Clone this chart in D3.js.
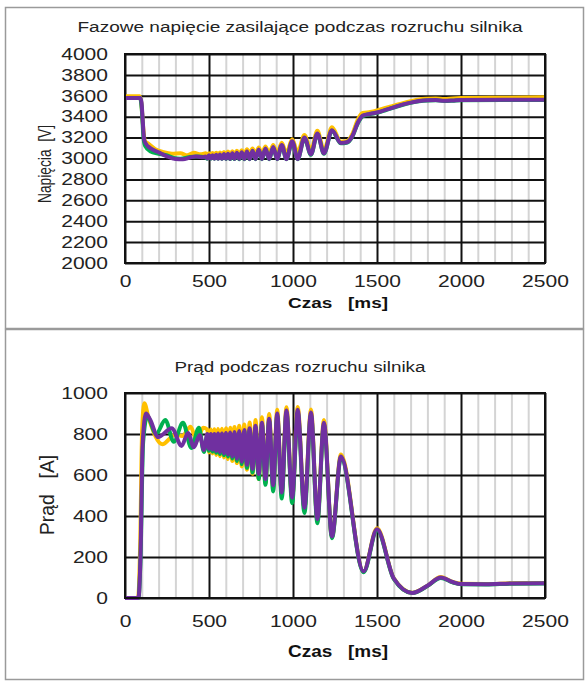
<!DOCTYPE html>
<html>
<head>
<meta charset="utf-8">
<script src="https://cdn.jsdelivr.net/npm/d3@7"></script>
<style>
    body { margin: 0; background: #fff; }
    svg { display: block; font-family: "Liberation Sans", Arial, sans-serif; }
</style>
</head>
<body>
<div id="wykres"></div>
<script>
// ---------------- dane: [czas ms, wartosc] ----------------
var czasTicks = [0, 500, 1000, 1500, 2000, 2500];
var napiecieTicks = [2000, 2200, 2400, 2600, 2800, 3000, 3200, 3400, 3600, 3800, 4000];
var pradTicks = [0, 200, 400, 600, 800, 1000];
var kolory = ["#FFC000", "#00B050", "#7030A0"];   // L1 zolty, L2 zielony, L3 fioletowy

// napiecie fazowe [V]
var napiecieL1 = [[0,3595],[88,3595],[98,3520],[108,3300],[118,3170],[140,3140],[180,3090],[230,3060],[280,3045],[330,3050],[370,3030],[410,3055],[450,3040],[480,3050],
    [490,3030],[500,3050],[511,3032],[521,3052],[532,3030],[543,3055],[554,3032],[565,3058],[577,3033],[589,3062],[601,3035],[613,3066],[626,3036],[639,3070],[652,3038],[666,3075],[680,3040],[695,3080],[710,3040],[726,3088],[742,3042],[759,3095],[777,3044],[796,3105],[815,3045],[836,3115],[858,3048],[882,3130],[906,3050],[933,3150],[961,3050],[995,3185],[1028,3060],[1068,3225],[1107,3080],[1145,3265],[1184,3080],[1232,3300],[1285,3160],
    [1320,3165],[1355,3240],[1385,3370],[1415,3435],[1460,3445],[1500,3460],[1550,3485],[1600,3505],[1650,3528],[1700,3548],[1750,3565],[1800,3572],[1850,3575],[1900,3570],[1950,3575],[2000,3578],[2250,3582],[2500,3585]];
var napiecieL2 = [[0,3580],[90,3580],[100,3470],[110,3200],[120,3120],[150,3070],[200,3045],[250,3030],[290,3005],[330,2998],[380,3012],[430,3020],[480,3010],
    [490,2998],[500,3022],[511,2998],[521,3025],[532,2997],[543,3028],[554,2997],[565,3030],[577,2996],[589,3034],[601,2996],[613,3038],[626,2995],[639,3042],[652,2995],[666,3047],[680,2994],[695,3052],[710,2994],[726,3060],[742,2994],[759,3068],[777,2994],[796,3078],[815,2994],[836,3088],[858,2994],[882,3102],[906,2994],[933,3122],[961,2994],[995,3158],[1028,2994],[1068,3195],[1107,3035],[1145,3235],[1184,3045],[1232,3265],[1285,3145],
    [1320,3150],[1355,3215],[1385,3335],[1415,3405],[1460,3425],[1500,3438],[1550,3462],[1600,3488],[1650,3512],[1700,3532],[1750,3548],[1800,3556],[1850,3558],[1900,3550],[1950,3553],[2000,3558],[2250,3560],[2500,3560]];
var napiecieL3 = [[0,3578],[90,3578],[98,3540],[106,3350],[114,3180],[125,3140],[150,3100],[200,3060],[250,3020],[300,2995],[345,2992],[385,3008],[420,3020],[455,3012],[480,3018],
    [490,3000],[500,3030],[511,3000],[521,3032],[532,2998],[543,3035],[554,2998],[565,3038],[577,2997],[589,3042],[601,2997],[613,3045],[626,2996],[639,3050],[652,2996],[666,3055],[680,2995],[695,3060],[710,2995],[726,3068],[742,2995],[759,3075],[777,2995],[796,3085],[815,2995],[836,3095],[858,2995],[882,3110],[906,2995],[933,3130],[961,2995],[995,3165],[1028,2995],[1068,3200],[1107,3040],[1145,3240],[1184,3050],[1232,3270],[1285,3148],
    [1320,3155],[1355,3220],[1385,3340],[1415,3410],[1460,3428],[1500,3440],[1550,3465],[1600,3490],[1650,3515],[1700,3535],[1750,3550],[1800,3558],[1850,3560],[1900,3552],[1950,3555],[2000,3560],[2250,3562],[2500,3562]];

// prad [A]
var pradL1 = [[0,0],[78,0],[90,250],[102,820],[115,950],[140,880],[222,750],[300,798],[340,790],[390,835],[428,768],[465,830],
    [490,822],[500,710],[511,822],[521,705],[532,823],[543,698],[554,825],[565,692],[577,826],[589,685],[601,828],[613,678],[626,830],[639,668],[652,834],[666,658],[680,840],[695,642],[710,846],[726,626],[742,856],[759,606],[777,868],[796,580],[815,882],[836,560],[858,898],[882,540],[906,918],[933,508],[961,930],[995,484],[1028,932],[1068,436],[1107,920],[1145,382],[1184,868],[1232,298],[1285,700],
    [1420,130],[1500,340],[1600,96],[1710,26],[1800,60],[1880,102],[1950,78],[2000,69],[2150,68],[2300,72],[2500,73]];
var pradL2 = [[0,0],[80,0],[92,180],[108,760],[132,885],[185,800],[240,868],[290,762],[345,855],[395,732],[440,830],[470,712],
    [490,792],[500,718],[511,794],[521,714],[532,794],[543,708],[554,796],[565,702],[577,797],[589,696],[601,799],[613,690],[626,801],[639,680],[652,804],[666,668],[680,808],[695,652],[710,812],[726,635],[742,820],[759,612],[777,832],[796,580],[815,847],[836,552],[858,866],[882,520],[906,890],[933,485],[961,905],[995,462],[1028,906],[1068,415],[1107,895],[1145,365],[1184,845],[1232,292],[1285,684],
    [1420,126],[1500,330],[1600,93],[1710,24],[1800,58],[1880,98],[1950,76],[2000,67],[2150,66],[2300,70],[2500,71]];
var pradL3 = [[0,0],[80,0],[92,200],[105,750],[125,900],[150,870],[197,785],[278,828],[337,742],[375,805],[410,735],[445,795],[470,722],
    [490,800],[500,728],[511,800],[521,724],[532,800],[543,718],[554,802],[565,712],[577,803],[589,706],[601,805],[613,700],[626,807],[639,690],[652,810],[666,680],[680,815],[695,665],[710,820],[726,650],[742,828],[759,630],[777,840],[796,605],[815,855],[836,580],[858,875],[882,550],[906,900],[933,515],[961,915],[995,490],[1028,918],[1068,440],[1107,905],[1145,385],[1184,855],[1232,300],[1285,690],
    [1420,130],[1500,335],[1600,95],[1710,25],[1800,60],[1880,100],[1950,78],[2000,68],[2150,67],[2300,71],[2500,72]];

// ---------------- rysunek ----------------
var svg = d3.select("#wykres")
    .append("svg")
    .attr("width", 585)
    .attr("height", 682);

// ramki obu paneli
svg.append("rect").attr("x", 5.5).attr("y", 7.5).attr("width", 578).attr("height", 321)
    .attr("fill", "none").attr("stroke", "#9a9a9a").attr("stroke-width", 1.5);
svg.append("rect").attr("x", 5.5).attr("y", 329.5).attr("width", 578).attr("height", 350)
    .attr("fill", "none").attr("stroke", "#9a9a9a").attr("stroke-width", 1.5);

function rysuj(o) {
    var x = d3.scaleLinear().domain([0, 2500]).range([125, 545]);
    var y = d3.scaleLinear().domain(o.domena).range([o.dol, o.gora]);
    var h = o.dol - o.gora, w = 420;
    var g = svg.append("g");

    // siatka pomocnicza co 100 ms (szara)
    g.append("g")
        .attr("transform", "translate(0," + o.dol + ")")
        .call(d3.axisBottom(x).tickValues(d3.range(100, 2500, 100).filter(function (d) { return d % 500 != 0; }))
            .tickSize(-h).tickFormat(""))
        .call(function (s) { s.select(".domain").remove(); })
        .selectAll("line").attr("stroke", "#d4d4d4").attr("stroke-width", 2);

    // siatka glowna (czarna)
    g.append("g")
        .attr("transform", "translate(0," + o.dol + ")")
        .call(d3.axisBottom(x).tickValues(czasTicks).tickSize(-h).tickFormat(""))
        .call(function (s) { s.select(".domain").remove(); })
        .selectAll("line").attr("stroke", "#111").attr("stroke-width", 2);
    g.append("g")
        .attr("transform", "translate(125,0)")
        .call(d3.axisLeft(y).tickValues(o.yTicks).tickSize(-w).tickFormat(""))
        .call(function (s) { s.select(".domain").remove(); })
        .selectAll("line").attr("stroke", "#111").attr("stroke-width", 2);

    // linie trzech faz
    var linia = d3.line()
        .x(function (d) { return x(d[0]); })
        .y(function (d) { return y(d[1]); })
        .curve(d3.curveMonotoneX);
    o.serie.forEach(function (s, i) {
        g.append("path")
            .datum(s)
            .attr("d", linia)
            .attr("fill", "none")
            .attr("stroke", kolory[i])
            .attr("stroke-width", 4)
            .attr("stroke-linejoin", "round");
    });

    // ramka obszaru wykresu
    g.append("rect").attr("x", 125).attr("y", o.gora).attr("width", w).attr("height", h)
        .attr("fill", "none").attr("stroke", "#111").attr("stroke-width", 2);

    // opisy osi (liczby)
    var osX = g.append("g")
        .attr("transform", "translate(0," + o.dol + ")")
        .call(d3.axisBottom(x).tickValues(czasTicks).tickSize(0).tickPadding(o.padX).tickFormat(d3.format("d")));
    var osY = g.append("g")
        .attr("transform", "translate(125,0)")
        .call(d3.axisLeft(y).tickValues(o.yTicks).tickSize(0).tickPadding(17).tickFormat(d3.format("d")));
    [osX, osY].forEach(function (os) {
        os.select(".domain").remove();
        os.selectAll("text")
            .attr("font-family", "Liberation Sans, Arial, sans-serif")
            .attr("font-size", 16.5)
            .attr("fill", "#222")
            .attr("textLength", function (d) { return String(d).length * 11.7; })
            .attr("lengthAdjust", "spacingAndGlyphs");
    });

    // tytul
    g.append("text")
        .attr("x", 300).attr("y", o.tytulY)
        .attr("text-anchor", "middle")
        .attr("font-size", 14).attr("fill", "#222")
        .attr("textLength", o.tytulDl).attr("lengthAdjust", "spacingAndGlyphs")
        .text(o.tytul);

    // os X - opis
    g.append("text")
        .attr("x", 338).attr("y", o.czasY)
        .attr("text-anchor", "middle")
        .attr("font-size", o.czasFont).attr("font-weight", "bold").attr("fill", "#111")
        .attr("textLength", 100).attr("lengthAdjust", "spacingAndGlyphs")
        .style("white-space", "pre")
        .text("Czas   [ms]");

    // os Y - opis
    g.append("text")
        .attr("transform", "translate(" + o.yLabX + "," + o.yLabY + ") scale(1.3,1) rotate(-90)")
        .attr("text-anchor", "middle")
        .attr("font-size", o.yLabFont).attr("fill", "#222")
        .attr("textLength", o.yLabDl).attr("lengthAdjust", "spacingAndGlyphs")
        .style("white-space", "pre")
        .text(o.yLab);
}

rysuj({
    domena: [2000, 4000], yTicks: napiecieTicks, gora: 54, dol: 263, padX: 12,
    serie: [napiecieL1, napiecieL2, napiecieL3],
    tytul: "Fazowe napięcie zasilające podczas rozruchu silnika", tytulY: 32, tytulDl: 445,
    czasY: 308, czasFont: 14,
    yLab: "Napięcia  [V]", yLabX: 51, yLabY: 164, yLabFont: 14, yLabDl: 78
});

rysuj({
    domena: [0, 1000], yTicks: pradTicks, gora: 393, dol: 598, padX: 17,
    serie: [pradL1, pradL2, pradL3],
    tytul: "Prąd podczas rozruchu silnika", tytulY: 372, tytulDl: 251,
    czasY: 657, czasFont: 16,
    yLab: "Prąd   [A]", yLabX: 54, yLabY: 495, yLabFont: 16, yLabDl: 80
});
</script>
</body>
</html>
